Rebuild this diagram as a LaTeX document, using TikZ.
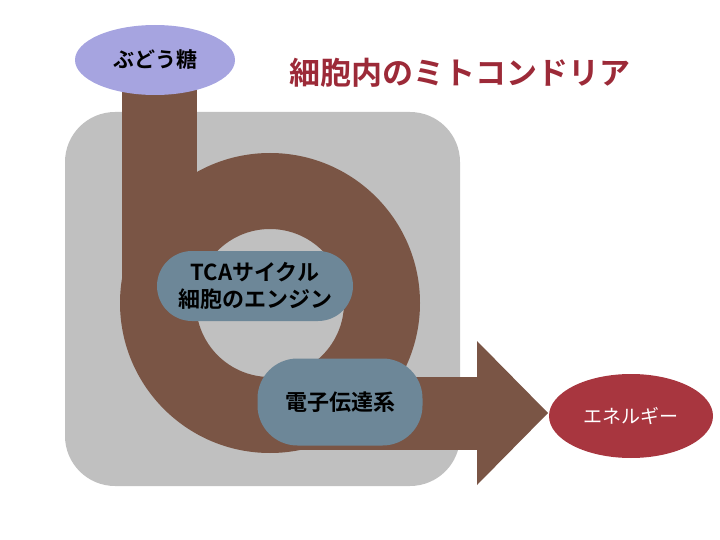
\documentclass[tikz,border=0pt]{standalone}
\usepackage{fontspec}
\setmainfont{Noto Sans CJK JP}[BoldFont={Noto Sans CJK JP Bold}]
\usetikzlibrary{shapes.geometric}
\definecolor{cellgray}{HTML}{C0C0C0}
\definecolor{bandbrown}{HTML}{7A5545}
\definecolor{pillblue}{HTML}{6D8798}
\definecolor{sugarblue}{HTML}{A6A4E0}
\definecolor{energyred}{HTML}{A8363F}
\definecolor{titlered}{HTML}{9C2A38}

\begin{document}
\begin{tikzpicture}[x=1pt, y=-1pt,
	sugar/.style = {ellipse, fill=sugarblue, minimum width=160pt, minimum height=70pt, font=\fontsize{21}{25}\selectfont\bfseries},
	pill/.style = {rectangle, fill=pillblue, align=center, inner sep=0pt, font=\fontsize{22}{27}\selectfont\bfseries},
	energy/.style = {ellipse, fill=energyred, text=white, minimum width=164pt, minimum height=84pt, font=\fontsize{19}{23}\selectfont},
	heading/.style = {text=titlered, font=\fontsize{31}{36}\selectfont\bfseries}]
	\useasboundingbox (0,0) rectangle (720,540);
	% cell
	\fill[cellgray, rounded corners=50pt] (65,112) rectangle (460,486);
	% brown flow
	\fill[bandbrown] (122,90) rectangle (197,303);
	\fill[bandbrown, even odd rule] (270,303) circle[radius=150] (270,303) circle[radius=74];
	\fill[bandbrown] (270,377) rectangle (477,450);
	\fill[bandbrown] (477,341) -- (548,413) -- (477,485) -- cycle;
	% nodes
	\node[sugar] (sugar) at (155,60) {ぶどう糖};
	\node[heading] (title) at (460,73) {細胞内のミトコンドリア};
	\node[pill, rounded corners=35pt, minimum width=196pt, minimum height=70pt] (tca) at (255,286) {TCAサイクル\\細胞のエンジン};
	\node[pill, rounded corners=40pt, minimum width=165pt, minimum height=87pt] (etc) at (340,402) {電子伝達系};
	\node[energy] (energy) at (631,416) {エネルギー};
\end{tikzpicture}
\end{document}
